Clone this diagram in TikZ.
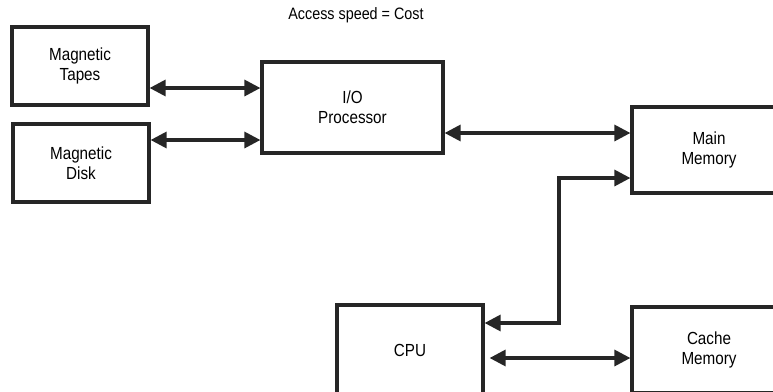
\documentclass[tikz,border=0pt]{standalone}
\usepackage{fontspec}
\setmainfont{Liberation Sans}[FakeStretch=0.87]
\usetikzlibrary{arrows.meta}
\begin{document}
\begin{tikzpicture}[x=1pt,y=-1pt,
  blk/.style={draw=black!85,line width=3.2pt,fill=white,align=center,inner sep=0pt,
    font=\fontsize{17.5}{20}\selectfont},
  arr/.style={draw=black!85,line width=3.2pt,{Triangle[length=16pt,width=16pt]}-{Triangle[length=16pt,width=16pt]}}]
\useasboundingbox (0,0) rectangle (773,391);
\clip (0,0) rectangle (773,391);
\node[font=\fontsize{16.5}{18}\selectfont] (title) at (356,15) {Access speed = Cost};
\node[blk,minimum width=136pt,minimum height=78pt] (tapes) at (80,66) {Magnetic\\Tapes};
\node[blk,minimum width=136pt,minimum height=78pt] (disk) at (81,163) {Magnetic\\Disk};
\node[blk,minimum width=181pt,minimum height=91pt] (io) at (352.5,107.5) {I/O\\Processor};
\node[blk,minimum width=154pt,minimum height=86pt] (main) at (709,150) {Main\\Memory};
\node[blk,minimum width=146pt,minimum height=90pt] (cpu) at (410,350) {CPU};
\node[blk,minimum width=154pt,minimum height=86pt] (cache) at (709,350) {Cache\\Memory};
\coordinate (ta) at ([yshift=-22pt]tapes.east);
\coordinate (di) at ([yshift=23pt]disk.east);
\coordinate (io1) at ([yshift=-25.5pt]io.east);
\coordinate (mm) at ([yshift=-28pt]main.west);
\coordinate (bend) at (559,323);
\coordinate (cp) at ([xshift=5pt,yshift=-8pt]cpu.east);
\draw[arr] (ta) -- (io.west |- ta);
\draw[arr] (di) -- (io.west |- di);
\draw[arr] (io1) -- (main.west |- io1);
\draw[arr] (cpu.east |- bend) -- (bend) |- (mm);
\draw[arr] (cp) -- (cache.west |- cp);
\end{tikzpicture}
\end{document}
